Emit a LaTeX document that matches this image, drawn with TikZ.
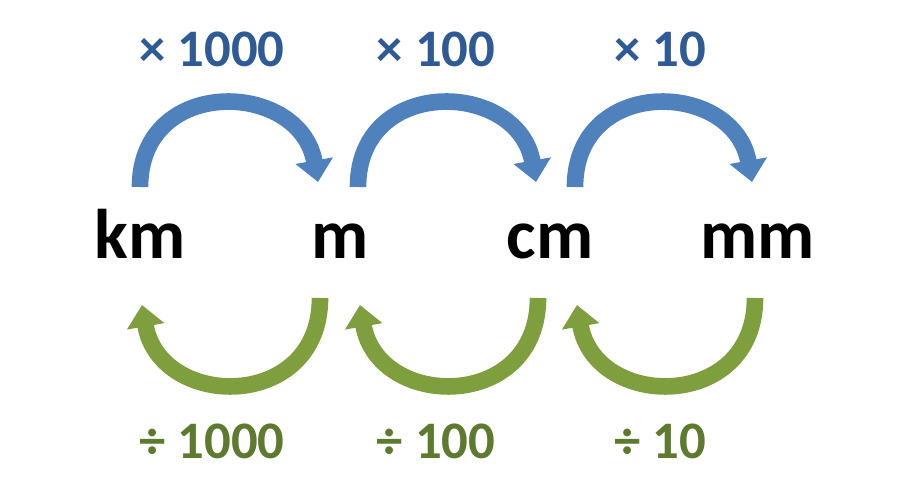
\documentclass[tikz,border=0pt]{standalone}
\usepackage{fontspec}
\setmainfont{Carlito}
\usetikzlibrary{arrows.meta, positioning}
\definecolor{upblue}{HTML}{4F81BD}
\definecolor{downgreen}{HTML}{7F9F3F}
\definecolor{multext}{HTML}{2E5A96}
\definecolor{divtext}{HTML}{5E7A2E}
\tikzset{
  unit/.style={font=\fontsize{60}{62}\selectfont\bfseries, inner sep=0pt, anchor=base},
  factor/.style={font=\fontsize{45}{47}\selectfont\bfseries, inner sep=0pt, anchor=base},
  uparc/.style={draw=upblue, line width=0.5cm, -{Triangle[length=0.65cm, width=1.1cm]}},
  downarc/.style={draw=downgreen, line width=0.5cm, -{Triangle[length=0.65cm, width=1.1cm]}}
}
\begin{document}
\begin{tikzpicture}[x=0.03cm, y=-0.03cm]
  \useasboundingbox (0,0) rectangle (900,493);

  \node[unit] (km) at (140,258) {km};
  \node[unit] (m)  at (340,258) {m};
  \node[unit] (cm) at (550,258) {cm};
  \node[unit] (mm) at (758,258) {mm};

  % multiply row
  \node[factor, text=multext] (mul1) at (212,66) {× 1000};
  \node[factor, text=multext] (mul2) at (436,66) {× 100};
  \node[factor, text=multext] (mul3) at (660,66) {× 10};

  % divide row
  \node[factor, text=divtext] (div1) at (212,458) {÷ 1000};
  \node[factor, text=divtext] (div2) at (436,458) {÷ 100};
  \node[factor, text=divtext] (div3) at (660,458) {÷ 10};

  \coordinate (a1) at (140,187);  \coordinate (b1) at (318,182);
  \coordinate (a2) at (358,187);  \coordinate (b2) at (536,182);
  \coordinate (a3) at (575,187);  \coordinate (b3) at (752,182);
  \draw[uparc] (a1) .. controls (140,75) and (300,80) .. (b1);
  \draw[uparc] (a2) .. controls (358,75) and (518,80) .. (b2);
  \draw[uparc] (a3) .. controls (575,75) and (734,80) .. (b3);

  \coordinate (c1) at (320,298);  \coordinate (d1) at (142,305);
  \coordinate (c2) at (538,298);  \coordinate (d2) at (360,305);
  \coordinate (c3) at (755,298);  \coordinate (d3) at (577,305);
  \draw[downarc] (c1) .. controls (320,412) and (160,410) .. (d1);
  \draw[downarc] (c2) .. controls (538,412) and (378,410) .. (d2);
  \draw[downarc] (c3) .. controls (755,412) and (595,410) .. (d3);
\end{tikzpicture}
\end{document}
